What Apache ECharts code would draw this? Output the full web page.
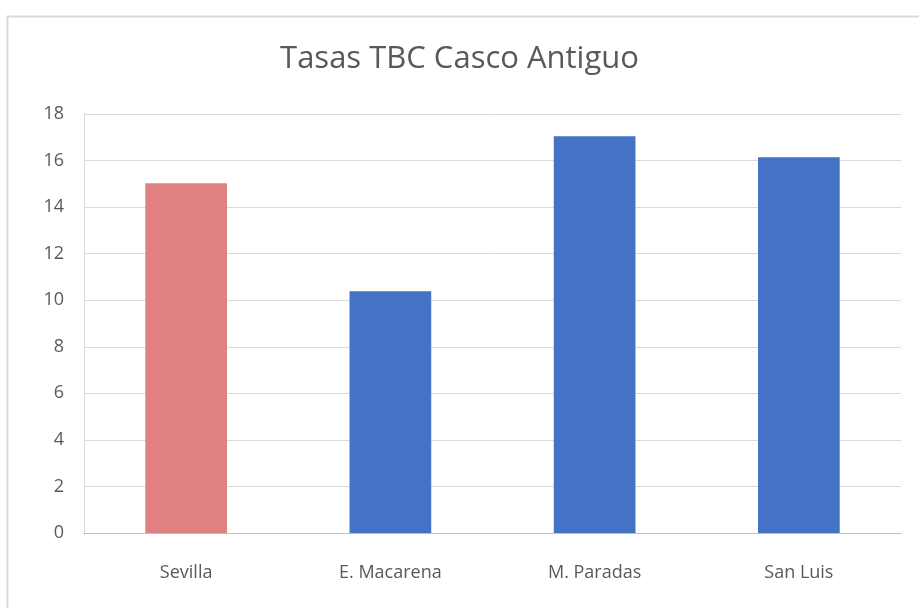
<!DOCTYPE html>
<html><head><meta charset="utf-8">
<script src="https://cdn.jsdelivr.net/npm/echarts@6/dist/echarts.min.js"></script>
<style>html,body{margin:0;padding:0;background:#fff}#c{width:919px;height:608px}</style>
</head><body><div id="c"></div>
<script>
const categories = ['Sevilla', 'E. Macarena', 'M. Paradas', 'San Luis'];
const values = [15.03, 10.39, 17.04, 16.14];
const barColors = ['#E08080', '#4472C4', '#4472C4', '#4472C4'];
const yTicks = [0, 2, 4, 6, 8, 10, 12, 14, 16, 18];
const FONT = "'Open Sans', sans-serif";

const chart = echarts.init(document.getElementById('c'));
chart.setOption({
  animation: false,
  backgroundColor: '#fff',
  graphic: [{
    type: 'rect', left: 5, top: 14, shape: { width: 930, height: 610 },
    style: { fill: 'none', stroke: '#d9d9d9', lineWidth: 2 }, silent: true
  }],
  title: {
    text: 'Tasas TBC Casco Antiguo', left: 'center', top: 39,
    textStyle: { fontFamily: FONT, fontSize: 31, fontWeight: 'normal', color: '#595959' }
  },
  grid: { left: 84, right: 18, top: 114, bottom: 75 },
  xAxis: {
    type: 'category', data: categories,
    axisLine: { lineStyle: { color: '#bfbfbf' } },
    axisTick: { show: false },
    axisLabel: { fontFamily: FONT, fontSize: 18, color: '#595959', margin: 31 }
  },
  yAxis: {
    type: 'value', min: yTicks[0], max: yTicks[yTicks.length - 1], interval: 2,
    axisLine: { show: true, lineStyle: { color: '#d9d9d9' } },
    axisTick: { show: false },
    splitLine: { lineStyle: { color: '#d9d9d9' } },
    axisLabel: { fontFamily: FONT, fontSize: 18, color: '#595959', margin: 20 }
  },
  series: [{
    type: 'bar', barWidth: '40%',
    data: values.map((v, i) => ({ value: v, itemStyle: { color: barColors[i] } }))
  }]
});
</script></body></html>
